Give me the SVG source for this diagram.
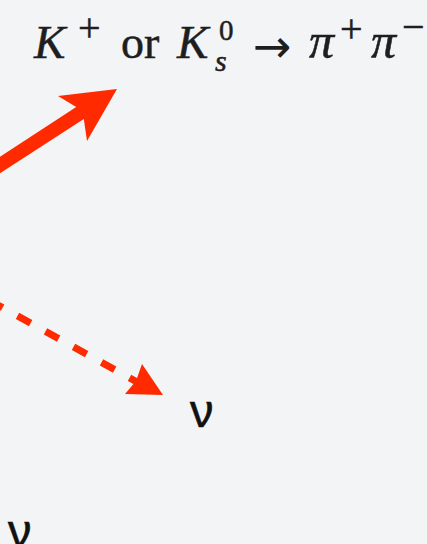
<svg xmlns="http://www.w3.org/2000/svg" width="427" height="544" viewBox="0 0 427 544">
<style>
.m{font-family:"Liberation Serif","DejaVu Serif",serif;fill:#1e1e1e;stroke:#1e1e1e;stroke-width:0.5}
.i{font-style:italic}
.nu{font-family:"Liberation Sans","DejaVu Sans",sans-serif;font-size:47px;fill:#111;stroke:#111;stroke-width:0.6}
.red{fill:#ff2a00}
</style>
<rect width="427" height="544" fill="#f3f4f6"/>
<g id="label-kaon">
<text class="m i" x="34" y="58" font-size="47">K</text>
<text class="m" x="78" y="41" font-size="40">+</text>
<text class="m" x="121" y="58" font-size="46">or</text>
<text class="m i" x="177" y="58" font-size="47">K</text>
<text class="m" x="219" y="40" font-size="29">0</text>
<text class="m i" x="215" y="71" font-size="30">s</text>
<text x="253" y="62" font-size="46" font-family="DejaVu Sans, sans-serif" fill="#1e1e1e">→</text>
<text class="m i" x="309" y="58" font-size="50">π</text>
<text class="m" x="340" y="42" font-size="40">+</text>
<text class="m i" x="371" y="58" font-size="50">π</text>
<text class="m" x="402" y="40" font-size="40">−</text>
</g>
<g id="nu1"><text class="nu" x="190" y="427">ν</text></g>
<g id="nu2"><text class="nu" x="8" y="547">ν</text></g>
<g id="connectors">
<polygon class="red" points="-5,159.9 76.2,107.1 58,96 117,89 87,141 83.8,118.9 -5,176.6"/>
<path d="M-10.5,300.4 L137,382" fill="none" stroke="#ff2a00" stroke-width="7" stroke-dasharray="15 17"/>
<polygon class="red" points="163,395 142,364 136,381 125,394"/>
</g>
</svg>
